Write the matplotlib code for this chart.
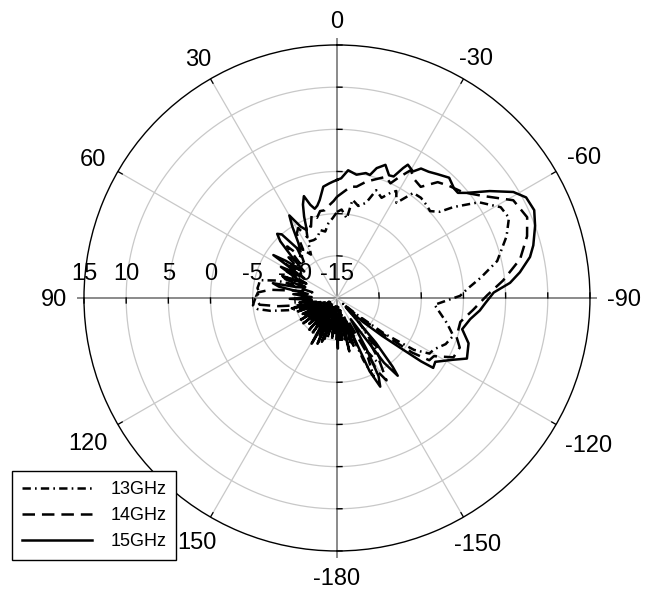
import numpy as np
import matplotlib
matplotlib.use("Agg")
import matplotlib.pyplot as plt
from matplotlib.transforms import ScaledTranslation

plt.rcParams['font.family'] = ['Liberation Sans', 'DejaVu Sans']
plt.rcParams['lines.scale_dashes'] = False

# ---- radiation pattern data: angle (deg) and gain (dB) ----
ang_13 = [0, -3, -7, -9, -13, -17, -20, -24, -27, -29, -32, -36, -40, -44, -47, -50, -52, -56,
          -61, -65, -70, -77, -82, -86, -89, -94, -99, -103, -108, -113, -118, -121, -124, -127,
          -130, -134, -138, -142, -145, -148, -151, -155, -157, -160, -163, -166, -169, -172,
          -175, -178, 179, 176, 173, 170, 167, 164, 161, 158, 155, 152, 149, 146, 143, 140, 137,
          134, 131, 128, 125, 122, 119, 116, 113, 110, 107, 104, 101, 98, 95, 92, 89, 86, 83, 80,
          77, 74, 71, 68, 65, 62, 59, 56, 52, 48, 44, 40, 35, 31, 27, 22, 18, 14, 10, 6.6, 3, 0]
gain_13 = [-4.8, -4.5, -5.5, -3.2, -3.8, -3.2, -1.4, -2.0, -1.0, -0.5, -1.7, 0.4, 0.5, 0.3, 0.1,
           0.9, 2.5, 5.3, 7.2, 7.5, 6.4, 4.5, 2.2, 0.5, -0.4, -3.4, -2.5, -1.6, -0.5, -1.0, -2.0,
           -2.2, -4.0, -8.0, -12.0, -14.0, -11.0, -8.0, -6.0, -6.1, -8.0, -4.7, -7.0, -12.0,
           -10.0, -13.5, -10.5, -14.0, -10.5, -14.0, -11.0, -14.0, -10.5, -14.0, -11.0, -14.0,
           -10.5, -13.5, -11.0, -14.0, -11.5, -14.0, -11.5, -14.0, -12.0, -14.0, -11.5, -14.0,
           -12.0, -14.0, -11.5, -14.0, -12.0, -13.5, -11.0, -9.0, -7.0, -5.5, -5.0, -5.2, -5.4,
           -5.8, -5.5, -5.6, -5.6, -7.5, -11.0, -9.0, -11.0, -8.5, -10.5, -8.5, -9.5, -8.0, -9.5,
           -8.5, -8.0, -9.0, -7.5, -7.6, -7.5, -6.7, -7.0, -6.1, -5.5, -4.8]

ang_14 = [0, -3, -7, -10, -14, -18, -22, -25, -27, -30, -33, -37, -41, -45, -50, -55, -61, -67,
          -72, -78, -84, -89, -95, -101, -108, -112, -117, -121, -124, -126, -128, -131, -134,
          -137, -140, -143, -146, -149, -151, -154, -157, -160, -163, -166, -169, -172, -175,
          -178, 179, 176, 173, 170, 167, 164, 161, 158, 155, 152, 149, 146, 143, 140, 137, 134,
          131, 128, 125, 122, 119, 116, 113, 110, 107, 104, 101, 98, 95, 92, 89, 86, 83, 80, 77,
          74, 71, 68, 65, 62, 59, 56, 53, 50, 47, 44, 41, 38, 35, 32, 29, 26, 23, 20, 17, 14, 11,
          8, 5, 2, 0]
gain_14 = [-3.0, -2.5, -1.7, -1.6, -0.8, -0.2, 0.5, 0.0, 1.0, 2.5, 1.8, 1.5, 3.2, 3.8, 4.5, 6.1,
           8.9, 9.5, 8.7, 7.2, 4.8, 2.8, 1.2, -0.1, -0.1, 0.7, 0.5, -1.6, -1.8, -4.0, -8.0,
           -12.0, -14.0, -12.0, -7.0, -9.0, -6.0, -3.6, -5.0, -12.0, -9.0, -13.0, -9.5, -13.5,
           -10.0, -13.5, -9.5, -13.0, -10.0, -13.5, -9.8, -13.5, -10.0, -13.5, -9.5, -13.0, -10.0,
           -13.5, -10.5, -13.5, -11.0, -14.0, -11.0, -14.0, -11.0, -13.5, -11.0, -13.5, -10.5,
           -13.0, -11.0, -13.5, -10.5, -13.0, -10.5, -8.0, -5.8, -5.5, -5.4, -5.6, -7.0, -10.0,
           -12.0, -9.0, -11.0, -8.5, -11.0, -8.0, -10.0, -7.5, -9.5, -7.5, -9.0, -6.5, -8.5,
           -7.0, -8.0, -6.0, -5.5, -7.0, -5.5, -6.0, -4.7, -5.2, -4.5, -4.5, -4.0, -3.5, -3.0]

ang_15 = [0, -2, -5, -9, -13, -15, -17, -20, -23, -25, -27, -28, -31, -33, -36, -39, -43, -47,
          -49, -51, -55, -59, -62, -66, -70, -75, -78, -82, -85, -88, -92, -95, -99, -104, -109,
          -115, -118, -123, -126, -127, -128, -130, -133, -136, -139, -141, -142, -144, -147,
          -150, -152, -154, -156, -158, -161, -164, -167, -170, -173, -176, -179, 178, 175, 172,
          169, 166, 163, 160, 157, 154, 151, 148, 145, 142, 139, 136, 133, 130, 127, 124, 121,
          118, 115, 112, 109, 106, 103, 100, 97, 94, 91, 88, 85, 82, 79, 77, 75, 72, 70, 68, 66,
          63, 61, 58, 56, 54, 51, 48, 45, 43, 41, 38, 35, 32, 30, 27, 24, 22, 20, 18, 16, 14, 12,
          10, 7, 4, 2, 0]
gain_15 = [-1.0, -0.8, 0.2, -0.2, 0.2, 0.1, 1.1, 1.8, 0.8, 0.9, 2.3, 2.9, 2.5, 3.3, 3.5, 3.9,
           4.5, 4.0, 4.0, 4.8, 7.1, 9.4, 10.4, 10.6, 10.0, 9.1, 8.4, 6.9, 5.6, 3.6, 2.6, 2.0, 1.0,
           0.3, 1.5, 2.0, 0.6, -1.1, -0.9, -2.5, -5.0, -8.0, -11.0, -13.5, -8.0, -4.5, -3.3,
           -5.5, -12.0, -8.0, -4.5, -3.3, -5.5, -12.0, -9.0, -12.5, -8.5, -13.0, -10.0, -13.0,
           -9.0, -12.5, -10.8, -13.0, -11.2, -12.5, -9.9, -12.0, -9.1, -12.5, -8.8, -13.0, -10.0,
           -13.5, -10.0, -13.0, -10.5, -13.5, -10.0, -13.0, -10.0, -13.0, -10.5, -13.0, -10.1,
           -12.5, -9.5, -12.5, -10.5, -12.0, -9.4, -12.0, -9.8, -11.5, -8.0, -7.2, -10.0, -11.0,
           -8.5, -8.0, -10.5, -9.0, -7.4, -9.5, -5.9, -7.5, -10.0, -8.0, -5.5, -4.6, -5.0, -8.0,
           -7.0, -5.0, -3.7, -5.5, -6.2, -4.6, -3.2, -2.3, -3.5, -4.1, -3.8, -3.2, -1.7, -1.4,
           -1.2, -1.0]

series = [("13GHz", ang_13, gain_13, [6, 3, 1.2, 3]),
          ("14GHz", ang_14, gain_14, [9, 5]),
          ("15GHz", ang_15, gain_15, None)]

theta_angles = list(range(0, 360, 30))
theta_labels = ['0', '30', '60', '90', '120', '150', '-180', '-150', '-120', '-90', '-60', '-30']
r_ticks = [15, 10, 5, 0, -5, -10, -15]
R_MIN, R_MAX = -15, 15

DPI = 100
fig = plt.figure(figsize=(6.45, 6.01), dpi=DPI)
ax = fig.add_axes([0.1302, 0.0832, 0.7845, 0.842], projection='polar')
ax.set_theta_zero_location('N')
ax.set_theta_direction(1)
ax.set_ylim(R_MIN, R_MAX)
ax.grid(False)
ax.set_yticks([])
ax.set_xticks([])
ax.spines['polar'].set_color('black')
ax.spines['polar'].set_linewidth(1.0)

full = np.linspace(0, 2 * np.pi, 721)
for r in [-10, -5, 0, 5, 10]:
    ax.plot(full, np.full_like(full, r), color='#c8c8c8', lw=0.9, zorder=1)

for a in theta_angles:
    t = np.radians(a)
    if a % 90 == 0:
        ax.plot([t, t], [R_MIN, R_MAX + 0.7], color='#8a8a8a', lw=1.4, zorder=1, clip_on=False)
    else:
        ax.plot([t, t], [R_MIN, R_MAX], color='#c8c8c8', lw=0.9, zorder=1)
        ax.plot([t, t], [R_MAX - 0.6, R_MAX], color='black', lw=0.9, zorder=2)

# angle labels: keep a roughly constant gap between the plot edge and each label
FS = 17
em_px = FS * DPI / 72.0
half_cap = 0.36 * em_px
gap_px = 17.0
for a, lab in zip(theta_angles, theta_labels):
    w = sum(0.333 if ch == '-' else 0.556 for ch in lab) * em_px
    s, c = np.sin(np.radians(a)), np.cos(np.radians(a))
    d = gap_px + max(abs(s) * w / 2, abs(c) * half_cap)
    dx, dy = -s * d, c * d - half_cap
    tr = ax.transData + ScaledTranslation(dx / DPI, dy / DPI, fig.dpi_scale_trans)
    ax.text(np.radians(a), R_MAX, lab, transform=tr, ha='center', va='baseline',
            fontsize=FS, clip_on=False)

# short tick marks where the rings cross the main axes
px_per_unit = 253.0 / (R_MAX - R_MIN)
for a, sgn in [(0, -1), (90, 1), (180, 1), (270, 1)]:
    for r in [-10, -5, 0, 5, 10, 15]:
        rad_px = (r - R_MIN) * px_per_unit
        dt = 5.0 / rad_px
        t0 = np.radians(a)
        ax.plot([t0, t0 + sgn * dt], [r, r], color='black', lw=1.0, zorder=2, clip_on=False)

# radial value labels along the 90 deg direction, lifted above the axis line
off = ScaledTranslation(0, (26.5 - half_cap) / DPI, fig.dpi_scale_trans)
for r in r_ticks:
    ax.text(np.radians(90), r, str(r), transform=ax.transData + off,
            ha='center', va='baseline', fontsize=FS, zorder=2.5)

handles = []
for name, ang, gain, dashes in series:
    t = np.radians(ang)
    if dashes is None:
        h, = ax.plot(t, gain, color='black', lw=1.8, label=name, zorder=3)
    else:
        h, = ax.plot(t, gain, color='black', lw=1.8, dashes=dashes, label=name, zorder=3)
    handles.append(h)

leg = fig.legend(handles=handles, loc='lower left', bbox_to_anchor=(0.0186, 0.0682),
                 fontsize=13, frameon=True, fancybox=False, framealpha=1,
                 edgecolor='black', handlelength=3.9, handletextpad=1.0,
                 labelspacing=0.5, borderpad=0.55, borderaxespad=0)
leg.get_frame().set_linewidth(1.0)

fig.savefig('out.png', dpi=DPI)
